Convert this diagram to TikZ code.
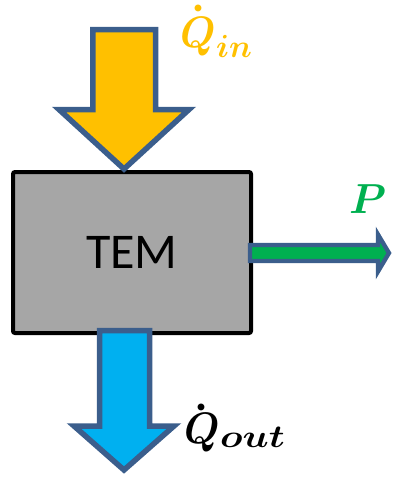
\RequirePackage{fix-cm}
\documentclass[tikz,border=0pt]{standalone}
\usepackage{fontspec}
\usepackage{amsmath}
\usepackage{bm}
\usepackage{graphicx}
\newfontfamily\carlito{Carlito}
\definecolor{yellowF}{HTML}{FFC000}
\definecolor{blueO}{HTML}{3B5E8C}
\definecolor{cyanF}{HTML}{00B0F0}
\definecolor{greenF}{HTML}{00B050}
\definecolor{grayF}{HTML}{A6A6A6}
% Q with a dot above: #1 = dot shift right, #2 = dot raise
\newcommand{\bigQdot}[2]{\makebox[0pt][l]{\kern#1\smash{\raisebox{#2}{\fontsize{44}{50}\selectfont$\bm{\cdot}$}}}%
  \scalebox{0.93}[1]{\fontsize{44}{50}\selectfont$\bm{Q}$}}
\newcommand{\subtxt}[1]{\fontsize{32}{36}\selectfont$\bm{#1}$}
\tikzset{
  blockarrow/.style={draw=blueO, line width=5.5pt, line join=miter, miter limit=10},
  modbox/.style={draw=black, fill=grayF, line width=4pt, rounded corners=2pt,
    minimum width=238pt, minimum height=161pt, inner sep=0pt,
    font=\carlito\fontsize{50}{60}\selectfont},
  mathlabel/.style={inner sep=0pt, font=\fontsize{42}{50}\selectfont}
}
\begin{document}
\begin{tikzpicture}[x=1pt, y=-1pt]
\useasboundingbox (0,0) rectangle (392,477);
\node[modbox] (tem) at (132,252.5) {TEM};
% heat in arrow
\draw[blockarrow, fill=yellowF] (92.8,29.5) -- (155.5,29.5) -- (155.5,109.5) -- (189,109.5)
  -- (124,169) -- (59,109.5) -- (92.8,109.5) -- cycle;
% heat out arrow
\draw[blockarrow, fill=cyanF] (99.5,330.5) -- (149.5,330.5) -- (149.5,426) -- (174,426)
  -- (124,470) -- (74,426) -- (99.5,426) -- cycle;
% power arrow
\draw[blockarrow, line width=4.3pt, fill=greenF] (250,245) -- (378,245) -- (378,234.5)
  -- (389,253) -- (378,271.5) -- (378,261) -- (250,261) -- cycle;
\node[mathlabel, anchor=base west, text=yellowF] (qin) at (180,47)
  {\bigQdot{11pt}{28pt}\kern0.5pt\raisebox{-10pt}{\subtxt{in}}};
\node[mathlabel, anchor=base west, text=black] (qout) at (184,443)
  {\bigQdot{10pt}{25pt}\kern0.5pt\raisebox{-4pt}{\scalebox{1.2}[1]{\subtxt{out}}}};
\node[mathlabel, anchor=base west, text=greenF] (p) at (349,213) {$\bm{P}$};
\end{tikzpicture}
\end{document}
